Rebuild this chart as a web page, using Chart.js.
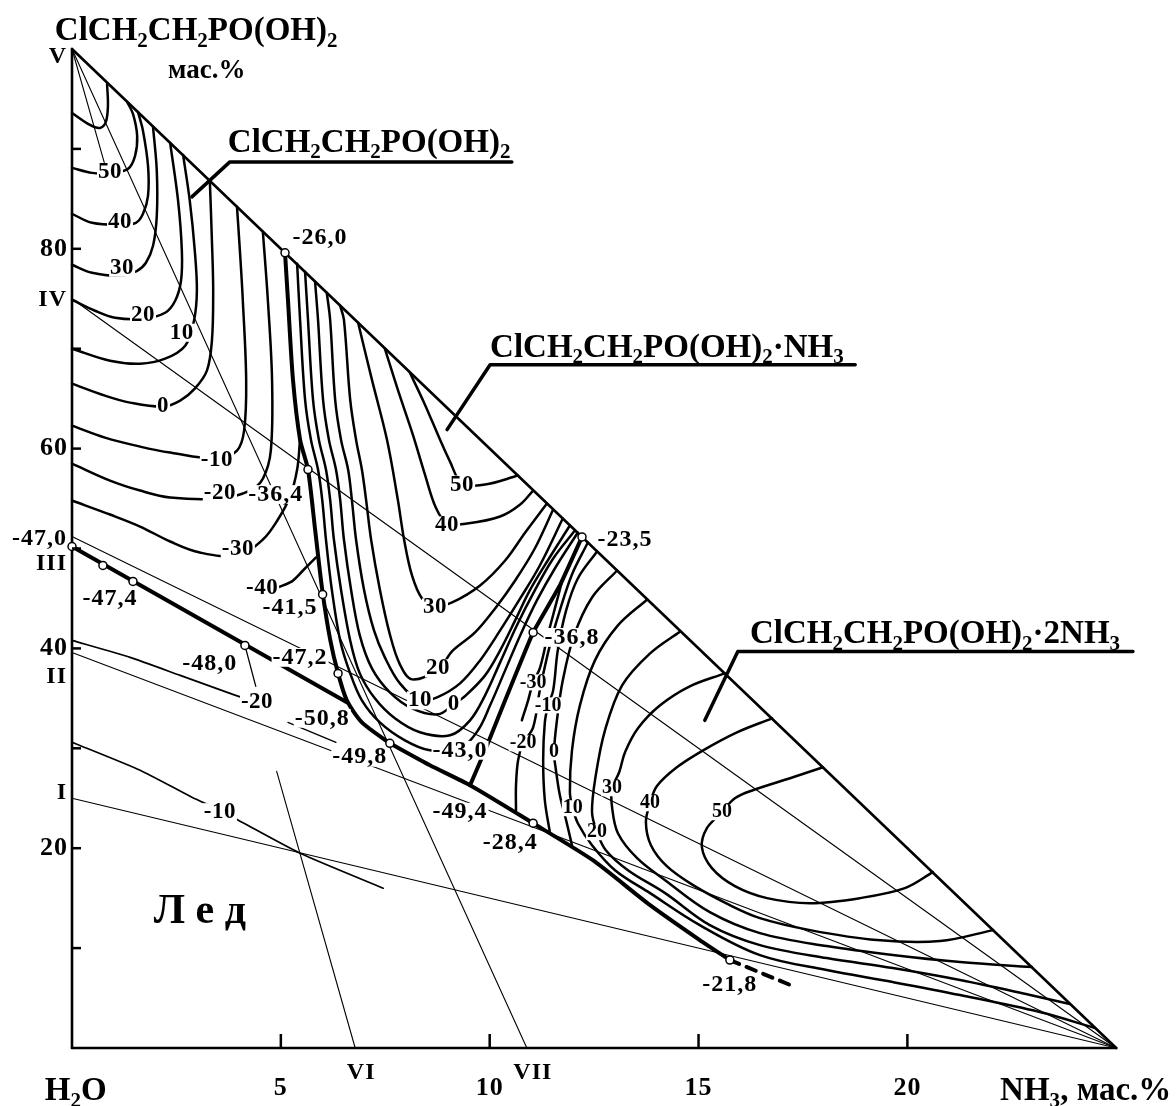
<!DOCTYPE html>
<html>
<head>
<meta charset="utf-8">
<title>ClCH2CH2PO(OH)2 - NH3 - H2O</title>
<script src="https://cdn.jsdelivr.net/npm/chart.js"></script>
<style>
  html, body { margin: 0; padding: 0; background: #fff; }
  canvas { display: block; }
</style>
</head>
<body>

<canvas id="diagram" width="1176" height="1106"></canvas>

<script>
// x = NH3, mass %;  y = ClCH2CH2PO(OH)2, mass %
const frameLines = [
    [[0, 0], [0, 100]],
    [[0, 0], [25, 0]],
    [[0, 100], [25, 0]]
];

// sections from the NH3 corner (I-IV) and from the acid corner (VI, VII)
const rays = [
    [[0, 100], [10.89, 0]],
    [[4.9, 27.7], [6.78, 0]],
    [[0, 100], [0.85, 87.5]],
    [[0, 75], [25, 0]],
    [[0, 51.2], [25, 0]],
    [[0, 39.6], [25, 0]],
    [[0, 25], [25, 0]]
];

const tieLines = [
    [[4.14, 40.3], [4.40, 36.2]],
    [[5.17, 32.6], [6.32, 30.6]]
];

const boundaryA = [[5.10, 79.6], [5.17, 74.9], [5.29, 66.9], [5.46, 60.9], [5.65, 57.9], [5.82, 51.9],
    [5.99, 45.9], [6.18, 40.9], [6.37, 37.5], [6.58, 34.8], [6.94, 32.6], [7.61, 30.5]];
const boundaryB = [[0, 50.2], [6.58, 34.6]];
const boundaryC = [[7.61, 30.5], [8.57, 28.3], [9.53, 26.3], [11.04, 22.5], [12.47, 18.8],
    [13.84, 14.3], [15.03, 10.8], [15.75, 8.8]];
const boundaryCdash = [[15.75, 8.8], [17.2, 6.3]];
const boundaryD = [[12.21, 51.16], [11.68, 46.3], [11.04, 41.6], [10.37, 34.8], [9.89, 29.8], [9.53, 26.3]];

// isotherms, field of ClCH2CH2PO(OH)2
const acidIsotherms = [
    [[0, 93.6], [0.43, 92.4], [0.67, 92.1], [0.81, 92.7], [0.86, 94.3], [0.84, 96.5]],
    [[0, 88.1], [0.48, 87.6], [0.91, 87.6], [1.34, 88.0], [1.51, 89.3], [1.56, 91.3], [1.46, 93.5], [1.32, 94.7]],
    [[0, 83.5], [0.48, 82.6], [1.15, 82.4], [1.53, 82.6], [1.70, 83.5], [1.82, 85.3], [1.82, 88.3], [1.70, 91.8], [1.58, 93.7]],
    [[0, 78.4], [0.48, 77.6], [1.15, 77.3], [1.56, 77.8], [1.77, 78.6], [1.94, 80.3], [2.03, 83.3], [2.03, 87.8], [1.94, 92.2]],
    [[0, 74.9], [0.55, 73.8], [1.03, 73.1], [1.70, 73.0], [2.23, 73.6], [2.47, 74.8], [2.61, 76.8], [2.63, 79.8], [2.54, 84.8], [2.35, 90.6]],
    [[0, 70.0], [0.91, 68.8], [1.63, 68.5], [2.23, 69.0], [2.71, 70.3], [2.92, 72.8], [2.99, 75.8], [2.94, 79.8], [2.82, 84.8], [2.66, 89.4]],
    [[0, 66.5], [0.79, 65.3], [1.39, 64.6], [2.18, 64.2], [2.59, 64.8], [2.94, 66.0], [3.23, 67.8], [3.35, 70.8], [3.38, 75.8], [3.35, 80.8], [3.30, 86.8]],
    [[0, 62.3], [0.79, 61.1], [1.63, 60.2], [2.35, 59.6], [3.47, 59.0], [3.95, 59.8], [4.12, 61.8], [4.17, 66.8], [4.09, 74.8], [4.02, 79.8], [3.95, 84.2]],
    [[0, 58.5], [0.91, 56.8], [1.63, 55.8], [2.35, 55.1], [3.54, 55.0], [4.26, 55.8], [4.57, 57.0], [4.76, 59.8], [4.79, 66.8], [4.69, 74.8], [4.57, 81.7]],
    [[0, 54.8], [0.91, 53.4], [1.63, 52.2], [2.35, 50.7], [3.06, 49.6], [3.97, 49.3], [4.57, 50.9], [4.93, 52.9], [5.22, 55.2], [5.39, 57.9], [5.46, 60.9]],
    [[4.55, 45.6], [5.22, 46.6], [5.53, 47.8], [5.84, 49.1]]
];

// field of ClCH2CH2PO(OH)2*NH3
const monoIsotherms = [
    [[8.09, 67.6], [8.45, 64.4], [8.81, 60.9], [9.05, 58.7], [9.34, 56.5], [9.89, 56.4], [10.68, 57.3]],
    [[7.49, 70.0], [7.80, 65.9], [8.16, 61.4], [8.45, 57.4], [8.71, 54.1], [8.98, 52.5], [9.46, 52.5], [10.25, 53.2], [10.73, 54.4], [11.04, 55.8]],
    [[6.85, 72.6], [7.18, 66.9], [7.54, 60.9], [7.80, 54.9], [7.95, 50.9], [8.14, 47.3], [8.38, 45.0], [8.69, 44.2], [9.10, 44.6], [9.77, 46.3], [10.37, 48.8], [10.85, 51.6], [11.37, 54.5]],
    [[6.42, 74.3], [6.51, 72.9], [6.66, 64.9], [6.80, 60.9], [6.94, 57.9], [7.04, 54.9], [7.16, 50.9], [7.37, 45.9], [7.61, 41.4], [7.85, 38.4], [8.14, 36.9], [8.76, 37.9], [9.12, 39.8], [9.65, 41.6], [10.13, 44.0], [10.61, 46.8], [11.08, 50.0], [11.52, 53.9]],
    [[6.10, 75.6], [6.18, 72.9], [6.30, 64.9], [6.44, 60.9], [6.61, 57.9], [6.70, 54.9], [6.80, 50.9], [6.99, 45.9], [7.23, 41.8], [7.49, 39.1], [7.85, 36.5], [8.33, 34.8], [8.74, 35.1], [9.29, 36.5], [9.77, 38.8], [10.25, 41.8], [10.73, 45.0], [11.20, 48.3], [11.75, 53.0]],
    [[5.82, 76.7], [5.89, 72.9], [6.01, 64.9], [6.15, 60.9], [6.32, 57.9], [6.42, 54.9], [6.51, 50.9], [6.68, 45.9], [6.89, 41.3], [7.18, 38.0], [7.61, 35.6], [8.14, 34.0], [8.76, 33.4], [9.14, 34.4], [9.43, 35.3], [9.89, 37.3], [10.25, 39.8], [10.61, 42.8], [10.96, 45.8], [11.39, 48.8], [11.92, 52.3]],
    [[5.58, 77.7], [5.65, 72.9], [5.77, 64.9], [5.91, 60.9], [6.08, 57.9], [6.18, 54.9], [6.27, 50.9], [6.44, 45.9], [6.66, 40.8], [6.89, 37.5], [7.25, 35.0], [7.73, 33.0], [8.33, 31.6], [9.05, 31.3], [9.53, 32.8], [9.89, 35.3], [10.25, 38.6], [10.65, 42.3], [11.08, 45.8], [11.52, 49.0], [12.04, 51.8]],
    [[5.39, 78.5], [5.46, 72.9], [5.58, 64.9], [5.72, 60.9], [5.89, 57.9], [5.99, 54.9], [6.08, 50.9], [6.22, 45.9], [6.42, 40.8], [6.66, 37.5], [6.94, 34.8], [7.37, 32.6], [7.97, 30.8], [8.57, 29.8], [9.29, 30.0], [9.72, 31.8], [10.01, 34.3], [10.37, 37.8], [10.73, 41.3], [11.13, 44.8], [11.56, 48.0], [12.11, 51.6]]
];

// field of ClCH2CH2PO(OH)2*2NH3
const diIsotherms = [
    [[17.98, 28.1], [17.26, 27.1], [16.30, 25.8], [15.87, 25.0], [15.56, 23.6], [15.20, 22.0], [15.08, 20.1], [15.32, 18.0], [15.87, 16.2], [16.64, 15.0], [17.67, 14.5], [18.86, 15.0], [19.94, 16.0], [20.61, 17.6]],
    [[16.76, 33.0], [15.92, 31.6], [15.11, 29.8], [14.48, 28.1], [14.00, 26.2], [13.84, 24.5], [13.74, 22.6], [13.86, 20.3], [14.24, 18.2], [14.87, 16.3], [15.75, 14.3], [16.47, 13.0], [17.67, 11.8], [19.27, 10.8], [20.78, 10.7], [22.05, 11.8]],
    [[15.63, 37.5], [14.79, 36.2], [14.08, 34.3], [13.55, 32.0], [13.24, 29.6], [13.10, 27.6], [12.93, 26.0], [12.93, 24.1], [13.07, 21.5], [13.53, 19.0], [14.20, 16.8], [15.27, 13.6], [16.47, 11.5], [18.07, 10.2], [19.65, 9.3], [21.26, 8.6], [22.98, 8.1]],
    [[14.56, 41.7], [13.84, 39.5], [13.17, 36.3], [12.76, 31.8], [12.54, 27.3], [12.45, 23.6], [12.57, 21.6], [12.78, 19.8], [13.31, 17.8], [14.20, 15.5], [15.27, 12.3], [16.47, 10.3], [18.07, 9.0], [19.65, 8.0], [21.26, 6.8], [22.94, 5.3], [23.89, 4.4]],
    [[13.77, 44.9], [13.07, 42.3], [12.52, 38.8], [12.16, 34.3], [11.97, 29.8], [11.92, 25.6], [11.99, 24.0], [12.11, 22.5], [12.45, 20.3], [13.00, 17.8], [13.84, 15.5], [15.03, 12.3], [16.47, 9.3], [18.07, 7.8], [19.65, 6.6], [21.26, 5.3], [23.17, 3.6], [24.49, 2.0]],
    [[13.05, 47.8], [12.45, 45.1], [12.02, 41.3], [11.75, 36.8], [11.61, 32.8], [11.54, 29.6], [11.58, 28.0], [11.68, 25.3], [11.83, 22.8], [11.97, 20.3]],
    [[12.57, 49.7], [12.11, 47.0], [11.83, 43.8], [11.63, 39.8], [11.52, 35.8], [11.40, 34.3], [11.32, 32.6], [11.28, 28.8], [11.32, 24.8], [11.44, 21.6]],
    [[12.35, 50.6], [11.97, 47.4], [11.68, 43.8], [11.44, 40.3], [11.20, 35.8], [11.04, 32.1], [10.80, 30.5], [10.68, 28.8], [10.63, 26.3], [10.63, 23.8]],
    [[11.75, 47.0], [11.58, 44.3], [11.39, 41.3], [11.20, 38.0], [11.04, 36.6], [10.92, 34.8], [10.77, 32.8]]
];

// ice field
const iceIsotherms = [
    [[0, 30.6], [1.63, 27.8], [2.87, 25.1], [3.54, 23.8], [4.07, 22.6], [5.46, 19.5], [7.45, 16.0]],
    [[0, 40.8], [1.39, 39.1], [2.59, 37.3], [3.85, 35.4], [4.20, 34.9]]
];

// leader lines to the phase names (underline + pointer)
const leaders = [
    [[10.53, 88.7], [3.78, 88.7], [2.87, 85.2]],
    [[18.75, 68.4], [10.01, 68.4], [8.98, 61.9]],
    [[25.4, 39.7], [15.94, 39.7], [15.15, 32.8]]
];

const invariantPoints = [[5.10, 79.6], [5.65, 57.9], [6.0, 45.4], [6.37, 37.5], [7.61, 30.5], [0, 50.2],
    [0.74, 48.3], [1.46, 46.7], [4.14, 40.3], [12.21, 51.16], [11.04, 41.6], [11.04, 22.5], [15.75, 8.8]];

const pointLabels = [
    ['-26,0', 5.94, 81.1], ['-36,4', 4.88, 55.4], ['-41,5', 5.22, 44.1], ['-47,4', 0.91, 45.0],
    ['-47,2', 5.46, 39.1], ['-48,0', 3.30, 38.5], ['-50,8', 5.99, 33.0], ['-49,8', 6.89, 29.1],
    ['-43,0', 9.29, 29.8], ['-49,4', 9.29, 23.6], ['-28,4', 10.49, 20.5], ['-36,8', 11.97, 41.1],
    ['-23,5', 13.24, 50.9], ['-21,8', 15.75, 6.3]
];

const isothermLabels = [
    ['50', 0.91, 87.7], ['40', 1.15, 82.7], ['30', 1.20, 78.1], ['20', 1.70, 73.4], ['10', 2.63, 71.6],
    ['0', 2.18, 64.3], ['-10', 3.47, 58.9], ['-20', 3.54, 55.5], ['-30', 3.97, 49.9], ['-40', 4.55, 46.0],
    ['-20', 4.43, 34.6], ['-10', 3.54, 23.6],
    ['50', 9.34, 56.4], ['40', 8.98, 52.3], ['30', 8.69, 44.1], ['20', 8.76, 38.0], ['10', 8.33, 34.8], ['0', 9.14, 34.4]
];
const smallLabels = [
    ['-30', 11.04, 36.6], ['-10', 11.40, 34.3], ['-20', 10.80, 30.5], ['0', 11.54, 29.6], ['10', 11.99, 24.0],
    ['20', 12.57, 21.6], ['30', 12.93, 26.0], ['40', 13.84, 24.5], ['50', 15.56, 23.6]
];

const phaseNames = [
    ['ClCH_2CH_2PO(OH)_2', 3.73, 89.7],
    ['ClCH_2CH_2PO(OH)_2·NH_3', 10.01, 69.2],
    ['ClCH_2CH_2PO(OH)_2·2NH_3', 16.23, 40.5]
];

const leftTicks = [10, 20, 30, 40, 50, 60, 70, 80, 90];
const leftTickLabels = [20, 40, 60, 80];
const bottomTicks = [5, 10, 15, 20];
const leftMarks = [['V', 99.2], ['IV', 74.9], ['-47,0', 50.95], ['III', 48.5], ['II', 37.2], ['I', 25.5]];
const bottomMarks = [['VI', 6.78], ['VII', 10.89]];

const FONT = '"Liberation Serif", "Times New Roman", serif';

function curve(points, width, tension, dash) {
    return {
        data: points.map(p => ({x: p[0], y: p[1]})),
        showLine: true,
        pointRadius: 0,
        pointHoverRadius: 0,
        borderColor: '#000',
        borderWidth: width,
        borderDash: dash || [],
        borderCapStyle: 'round',
        borderJoinStyle: 'round',
        tension: tension,
        fill: false,
        clip: false,
        order: 1
    };
}

const datasets = [];
datasets.push({
    data: invariantPoints.map(p => ({x: p[0], y: p[1]})),
    pointRadius: 4,
    pointBackgroundColor: '#fff',
    pointBorderColor: '#000',
    pointBorderWidth: 1.5,
    showLine: false,
    clip: false,
    order: 0
});
frameLines.forEach(l => datasets.push(curve(l, 2.6, 0)));
rays.forEach(l => datasets.push(curve(l, 1.1, 0)));
tieLines.forEach(l => datasets.push(curve(l, 1.3, 0)));
acidIsotherms.forEach(l => datasets.push(curve(l, 2.5, 0.35)));
monoIsotherms.forEach(l => datasets.push(curve(l, 2.5, 0.35)));
diIsotherms.forEach(l => datasets.push(curve(l, 2.5, 0.35)));
iceIsotherms.forEach(l => datasets.push(curve(l, 1.7, 0.2)));
datasets.push(curve(boundaryA, 4, 0.25));
datasets.push(curve(boundaryB, 4, 0));
datasets.push(curve(boundaryC, 4, 0.2));
datasets.push(curve(boundaryCdash, 4, 0, [10, 8]));
datasets.push(curve(boundaryD, 4, 0.1));
leaders.forEach(l => datasets.push(curve(l, 3.5, 0)));

// formula text, '_' marks a subscript character
function formula(ctx, str, x, y, size) {
    let cx = x;
    ctx.textAlign = 'left';
    ctx.textBaseline = 'alphabetic';
    for (let i = 0; i < str.length; i++) {
        let ch = str[i];
        let sub = false;
        if (ch === '_') { sub = true; ch = str[++i]; }
        const s = sub ? Math.round(size * 0.64) : size;
        ctx.font = 'bold ' + s + 'px ' + FONT;
        ctx.fillText(ch, cx, sub ? y + size * 0.2 : y);
        cx += ctx.measureText(ch).width;
    }
}

function boxText(ctx, text, cx, cy, size, spacing) {
    ctx.font = 'bold ' + size + 'px ' + FONT;
    ctx.letterSpacing = spacing + 'px';
    const w = ctx.measureText(text).width;
    const h = size * 0.7;
    ctx.fillStyle = '#fff';
    ctx.fillRect(cx - w / 2 - 1, cy - h / 2 - 1, w + 2, h + 2);
    ctx.fillStyle = '#000';
    ctx.textAlign = 'center';
    ctx.textBaseline = 'middle';
    ctx.fillText(text, cx, cy);
    ctx.letterSpacing = '0px';
}

const annotate = {
    id: 'annotate',
    afterDatasetsDraw(chart) {
        const ctx = chart.ctx;
        const X = v => chart.scales.x.getPixelForValue(v);
        const Y = v => chart.scales.y.getPixelForValue(v);
        ctx.save();
        ctx.strokeStyle = '#000';
        ctx.fillStyle = '#000';
        ctx.lineWidth = 2.5;
        leftTicks.forEach(v => {
            ctx.beginPath(); ctx.moveTo(X(0), Y(v)); ctx.lineTo(X(0) + 9, Y(v)); ctx.stroke();
        });
        bottomTicks.forEach(v => {
            ctx.beginPath(); ctx.moveTo(X(v), Y(0)); ctx.lineTo(X(v), Y(0) - 14); ctx.stroke();
        });

        ctx.font = 'bold 26px ' + FONT;
        ctx.letterSpacing = '1px';
        ctx.textBaseline = 'middle';
        ctx.textAlign = 'right';
        leftTickLabels.forEach(v => ctx.fillText(String(v), X(0) - 4, Y(v)));
        ctx.textAlign = 'center';
        bottomTicks.forEach(v => ctx.fillText(String(v), X(v), Y(0) + 40));

        ctx.font = 'bold 24px ' + FONT;
        ctx.textAlign = 'right';
        leftMarks.forEach(m => ctx.fillText(m[0], X(0) - 5, Y(m[1])));
        ctx.textAlign = 'center';
        bottomMarks.forEach(m => ctx.fillText(m[0], X(m[1]) + 6, Y(0) + 25));
        ctx.letterSpacing = '0px';

        // axis titles
        formula(ctx, 'ClCH_2CH_2PO(OH)_2', X(-0.41), Y(100.9), 33);
        ctx.font = 'bold 27px ' + FONT;
        ctx.fillText('мас.%', X(2.30), Y(97.1));
        formula(ctx, 'H_2O', X(-0.65), Y(-5.2), 33);
        const nx = X(22.22);
        formula(ctx, 'NH_3', nx, Y(-5.2), 33);
        ctx.font = 'bold 33px ' + FONT;
        const w = ctx.measureText('NH').width + ctx.measureText('3').width * 0.64;
        ctx.fillText(', мас.%', nx + w, Y(-5.2));

        phaseNames.forEach(p => formula(ctx, p[0], X(p[1]), Y(p[2]), 33));

        pointLabels.forEach(l => boxText(ctx, l[0], X(l[1]), Y(l[2]), 24, 1));
        isothermLabels.forEach(l => boxText(ctx, l[0], X(l[1]), Y(l[2]), 23, 0.5));
        smallLabels.forEach(l => boxText(ctx, l[0], X(l[1]), Y(l[2]), 20, 0));

        ctx.font = 'bold 42px ' + FONT;
        ctx.textAlign = 'center';
        ctx.textBaseline = 'middle';
        ctx.fillStyle = '#000';
        ctx.fillText('Л е д', X(3.06), Y(13.6));
        ctx.restore();
    }
};

new Chart(document.getElementById('diagram').getContext('2d'), {
    type: 'scatter',
    data: { datasets: datasets },
    options: {
        responsive: false,
        animation: false,
        devicePixelRatio: 1,
        layout: { padding: { left: 72, right: 18, top: 49, bottom: 58 } },
        scales: {
            x: { type: 'linear', min: 0, max: 26, display: false },
            y: { type: 'linear', min: 0, max: 100, display: false }
        },
        plugins: {
            legend: { display: false },
            tooltip: { enabled: false }
        },
        events: []
    },
    plugins: [annotate]
});
</script>

</body>
</html>
